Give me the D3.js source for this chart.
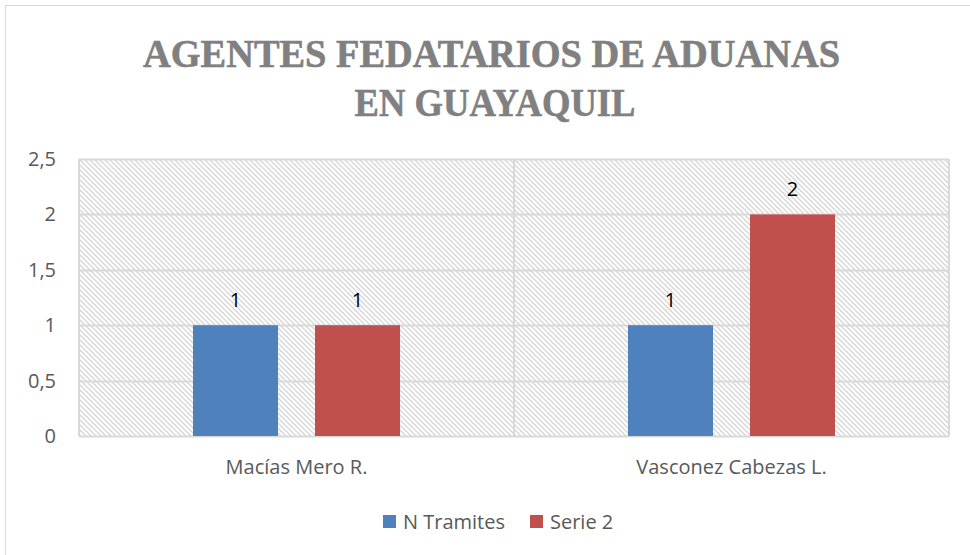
<!DOCTYPE html>
<html><head><meta charset="utf-8">
<script src="https://cdn.jsdelivr.net/npm/d3@7"></script>
<style>body{margin:0;background:#fff}svg{display:block}</style>
</head><body><svg id="c" width="970" height="555"></svg>
<script>
const categories = ["Macías Mero R.", "Vasconez Cabezas L."];
const seriesNames = ["N Tramites", "Serie 2"];
const nTramites = [1, 1];
const serie2 = [1, 2];
const yTicks = [0, 0.5, 1, 1.5, 2, 2.5];
const colors = ["#4f81bd", "#c0504d"];
const titleLines = ["AGENTES FEDATARIOS DE ADUANAS", "EN GUAYAQUIL"];

const svg = d3.select("#c");
const W = 970, H = 555;
const m = {l: 79, t: 159, r: 949, b: 436};
const FONT = "Open Sans, sans-serif";

svg.append("rect").attr("x", 5.5).attr("y", 5.5).attr("width", 980).attr("height", 580)
  .attr("fill", "#fff").attr("stroke", "#d9d9d9").attr("stroke-width", 1);

// hatch pattern
const defs = svg.append("defs");
const pat = defs.append("pattern").attr("id", "hatch").attr("patternUnits", "userSpaceOnUse")
  .attr("width", 5).attr("height", 5);
pat.append("rect").attr("width", 5).attr("height", 5).attr("fill", "#fff");
pat.append("path").attr("d", "M-1,-1 L6,6 M-1,4 L1,6 M4,-1 L6,1")
  .attr("stroke", "#d6d6d6").attr("stroke-width", 1.3);

const x0 = d3.scaleBand().domain(categories).range([m.l, m.r]);
const y = d3.scaleLinear().domain([0, 2.5]).range([m.b, m.t]);

svg.append("rect").attr("x", m.l).attr("y", m.t).attr("width", m.r - m.l).attr("height", m.b - m.t)
  .attr("fill", "url(#hatch)");

// gridlines
svg.append("g").selectAll("line").data(yTicks).join("line")
  .attr("x1", m.l).attr("x2", m.r).attr("y1", d => Math.round(y(d)) + 0.5).attr("y2", d => Math.round(y(d)) + 0.5)
  .attr("stroke", "#d9d9d9").attr("stroke-width", 2);
const bounds = [m.l, ...categories.map(c => x0(c) + x0.bandwidth())];
svg.append("g").selectAll("line").data(bounds).join("line")
  .attr("x1", d => d).attr("x2", d => d).attr("y1", m.t).attr("y2", m.b)
  .attr("stroke", "#d9d9d9").attr("stroke-width", 2);

// y axis labels
const yAxis = d3.axisLeft(y).tickValues(yTicks).tickSize(0).tickPadding(0)
  .tickFormat(d => String(d).replace(".", ","));
const ga = svg.append("g").attr("transform", `translate(${56},0)`).call(yAxis);
ga.select(".domain").remove();
ga.selectAll("text").attr("font-family", FONT).attr("font-size", 20).attr("fill", "#595959");

// x labels
const xAxis = d3.axisBottom(x0).tickSize(0).tickPadding(0);
const gx = svg.append("g").attr("transform", `translate(0,${474})`).call(xAxis);
gx.select(".domain").remove();
gx.selectAll("text").attr("dy", 0).attr("font-family", FONT).attr("font-size", 20).attr("fill", "#595959");

// bars
const bw = 85, gap = 37;
const data = categories.map((c, i) => ({c, vals: [nTramites[i], serie2[i]]}));
const groups = svg.append("g").selectAll("g").data(data).join("g")
  .attr("transform", d => `translate(${x0(d.c) + x0.bandwidth() / 2},0)`);
groups.selectAll("rect").data(d => d.vals.map((v, k) => ({v, k}))).join("rect")
  .attr("x", d => (d.k === 0 ? -gap / 2 - bw : gap / 2))
  .attr("width", bw)
  .attr("y", d => y(d.v)).attr("height", d => y(0) - y(d.v))
  .attr("fill", d => colors[d.k]);
groups.selectAll("text").data(d => d.vals.map((v, k) => ({v, k}))).join("text")
  .attr("x", d => (d.k === 0 ? -gap / 2 - bw / 2 : gap / 2 + bw / 2))
  .attr("y", d => y(d.v) - 18)
  .attr("text-anchor", "middle")
  .attr("font-family", FONT).attr("font-size", 20).attr("fill", "#000")
  .text(d => d.v);

// title
const tl = [{t: titleLines[0], yb: 67, w: 697, cx: 491.5}, {t: titleLines[1], yb: 116, w: 281, cx: 495}];
svg.append("g").selectAll("text").data(tl).join("text")
  .attr("x", d => d.cx).attr("y", d => d.yb).attr("text-anchor", "middle")
  .attr("font-family", "Liberation Serif, serif").attr("font-weight", "bold").attr("font-size", 41)
  .attr("fill", "#808080").attr("stroke", "#808080").attr("stroke-width", 0.6)
  .attr("textLength", d => d.w).attr("lengthAdjust", "spacingAndGlyphs")
  .text(d => d.t);

// legend
const leg = svg.append("g").attr("transform", "translate(383,515)");
const items = [{n: seriesNames[0], x: 0}, {n: seriesNames[1], x: 147}];
items.forEach((it, i) => {
  leg.append("rect").attr("x", it.x).attr("y", 0).attr("width", 13).attr("height", 13).attr("fill", colors[i]);
  leg.append("text").attr("x", it.x + 20).attr("y", 14).attr("font-family", FONT)
    .attr("font-size", 20).attr("fill", "#595959").text(it.n);
});
</script></body></html>
